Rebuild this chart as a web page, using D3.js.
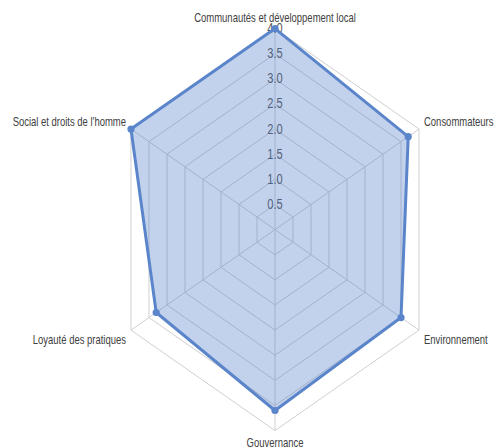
<!DOCTYPE html>
<html>
<head>
<meta charset="utf-8">
<script src="https://cdn.jsdelivr.net/npm/d3@7"></script>
<style>
  body { margin: 0; background: #fff; }
  svg { display: block; }
  .axis-label { font-family: "Liberation Sans", Arial, sans-serif; font-size: 12px; fill: #404040; }
  .tick-label { font-family: "Liberation Sans", Arial, sans-serif; font-size: 14px; fill: #595959; }
</style>
</head>
<body>
<div id="chart"></div>
<script>
const categories = [
  "Communautés et développement local",
  "Consommateurs",
  "Environnement",
  "Gouvernance",
  "Loyauté des pratiques",
  "Social et droits de l'homme",
];
const values = [4.0, 3.7, 3.5, 3.6, 3.3, 4.0];
const ticks = [0.5, 1.0, 1.5, 2.0, 2.5, 3.0, 3.5, 4.0];

const width = 501;
const height = 448;
const cx = 275;
const cy = 229.6;
// text in the original is narrow, squeeze it sideways
const squeeze = 0.79;

// the picture is squeezed horizontally, so x and y get their own radius
const ry = d3.scaleLinear().domain([0, 4]).range([0, 201]);
const rx = d3.scaleLinear().domain([0, 4]).range([0, 166.3]);
const ang = (i) => (i / categories.length) * 2 * Math.PI;

const px = (v, i) => cx + rx(v) * Math.sin(ang(i));
const py = (v, i) => cy - ry(v) * Math.cos(ang(i));

const svg = d3.select("#chart").append("svg")
  .attr("width", width)
  .attr("height", height);

const gGrid = svg.append("g");

gGrid.selectAll(".ring")
  .data(ticks)
  .join("polygon")
  .attr("class", "ring")
  .attr("points", (t) => categories.map((c, i) => [px(t, i), py(t, i)].join(",")).join(" "))
  .attr("fill", "none")
  .attr("stroke", "#d0d0d0")
  .attr("stroke-width", 1);

gGrid.selectAll(".spoke")
  .data(categories)
  .join("line")
  .attr("class", "spoke")
  .attr("x1", cx)
  .attr("y1", cy)
  .attr("x2", (c, i) => px(4, i))
  .attr("y2", (c, i) => py(4, i))
  .attr("stroke", "#d0d0d0")
  .attr("stroke-width", 1);

svg.append("g").selectAll(".tick-label")
  .data(ticks)
  .join("text")
  .attr("class", "tick-label")
  .attr("transform", (t) => `translate(${cx},${cy - ry(t)}) scale(${squeeze},1)`)
  .attr("text-anchor", "middle")
  .attr("dominant-baseline", "central")
  .text((t) => d3.format(".1f")(t));

const line = d3.line()
  .x((d, i) => px(d, i))
  .y((d, i) => py(d, i))
  .curve(d3.curveLinearClosed);

svg.append("path")
  .datum(values)
  .attr("d", line)
  .attr("fill", "#4472c4")
  .attr("fill-opacity", 0.32)
  .attr("stroke", "#5b85ca")
  .attr("stroke-width", 3)
  .attr("stroke-linejoin", "round");

svg.append("g").selectAll("circle")
  .data(values)
  .join("circle")
  .attr("cx", (d, i) => px(d, i))
  .attr("cy", (d, i) => py(d, i))
  .attr("r", 3.6)
  .attr("fill", "#5b85ca");

const labelPos = (i) => {
  const s = Math.sin(ang(i));
  const k = Math.cos(ang(i));
  if (Math.abs(s) < 0.01) {
    return [px(4, i), py(4, i) + (k > 0 ? -11 : 12), "middle"];
  }
  return [px(4, i) + Math.sign(s) * 5, py(4, i) + (k > 0 ? -7.5 : 9.5), s > 0 ? "start" : "end"];
};

svg.append("g").selectAll(".axis-label")
  .data(categories)
  .join("text")
  .attr("class", "axis-label")
  .attr("transform", (c, i) => {
    const [x, y] = labelPos(i);
    return `translate(${x},${y}) scale(${squeeze},1)`;
  })
  .attr("text-anchor", (c, i) => labelPos(i)[2])
  .attr("dominant-baseline", "central")
  .text((c) => c);
</script>
</body>
</html>
